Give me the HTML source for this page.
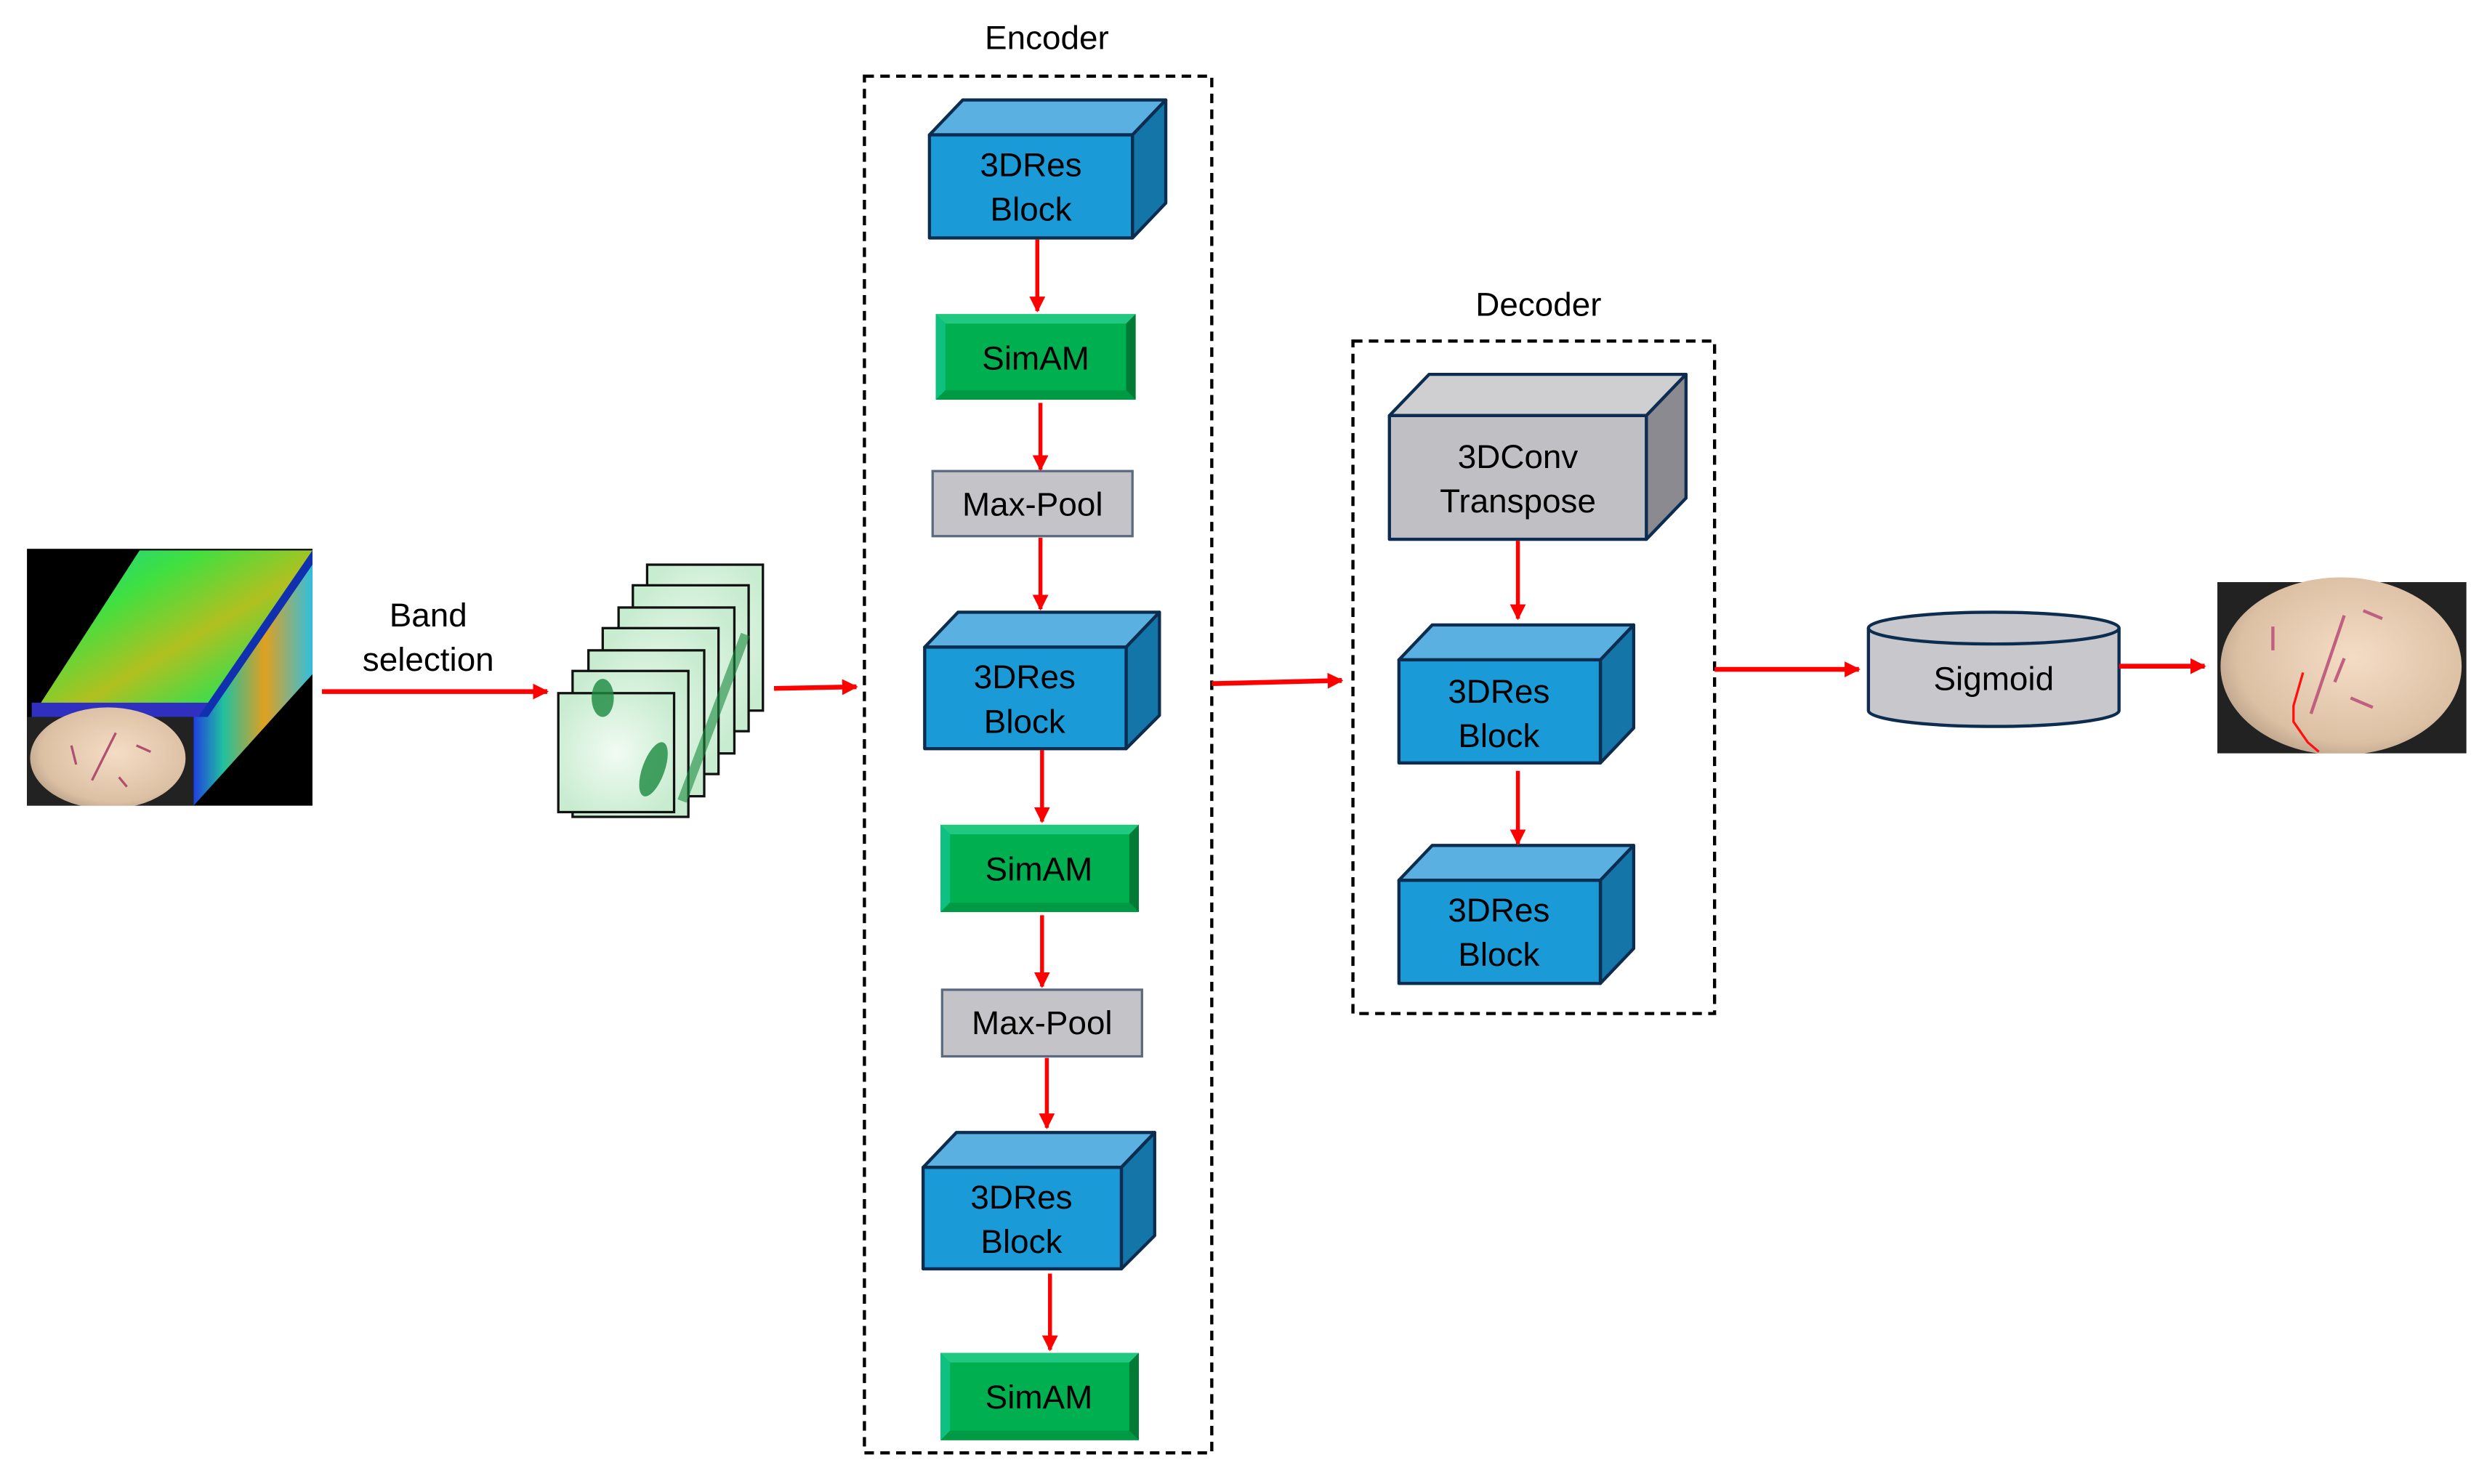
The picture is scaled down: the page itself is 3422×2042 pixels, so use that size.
<!DOCTYPE html>
<html><head><meta charset="utf-8"><style>html,body{margin:0;padding:0;background:#fff}svg{display:block}</style></head>
<body>
<svg width="3422" height="2042" viewBox="0 0 1568 935.6" xmlns="http://www.w3.org/2000/svg" font-family="Liberation Sans, sans-serif">
<defs>
<marker id="ah" markerWidth="10" markerHeight="10" refX="9" refY="5" orient="auto" markerUnits="userSpaceOnUse"><path d="M0,0 L10,5 L0,10 Z" fill="#ff0000"/></marker>
<linearGradient id="spec" x1="0" y1="0" x2="1" y2="1"><stop offset="0" stop-color="#10d0a0"/><stop offset="0.3" stop-color="#40e040"/><stop offset="0.55" stop-color="#b0c020"/><stop offset="0.8" stop-color="#30e050"/><stop offset="1" stop-color="#20a0e0"/></linearGradient>
<linearGradient id="spec2" x1="0" y1="0" x2="1" y2="0"><stop offset="0" stop-color="#2040e0"/><stop offset="0.25" stop-color="#20c0a0"/><stop offset="0.6" stop-color="#e0a020"/><stop offset="1" stop-color="#30c0e0"/></linearGradient>
<radialGradient id="egg" cx="0.55" cy="0.45" r="0.6"><stop offset="0" stop-color="#f4dcc4"/><stop offset="0.8" stop-color="#dcc0a4"/><stop offset="1" stop-color="#b8a088"/></radialGradient>
<radialGradient id="gm" cx="0.5" cy="0.5" r="0.6"><stop offset="0" stop-color="#f2fbf3"/><stop offset="1" stop-color="#c8ecd0"/></radialGradient>
</defs>

<!-- input cube -->
<rect x="17" y="346" width="180" height="162" fill="#000"/>
<polygon points="20,452 88,347 197,347 127,452" fill="url(#spec)"/>
<polygon points="20,443 133,443 127,452 20,452" fill="#3030c0"/>
<polygon points="127,452 197,347 197,425 122,508 122,452" fill="url(#spec2)"/>
<polygon points="125,452 197,347 197,356 131,452" fill="#1030b0"/>
<rect x="17" y="452" width="105" height="56" fill="#222"/>
<ellipse cx="68" cy="478" rx="49" ry="32" fill="url(#egg)"/>
<rect x="0" y="508" width="200" height="30" fill="#fff"/>
<path d="M58,492 L73,462 M86,470 L95,474 M45,470 L48,482 M75,490 L80,496" stroke="#b05070" stroke-width="1.5"/>

<line x1="203" y1="436" x2="345" y2="436" stroke="#ff0000" stroke-width="3" marker-end="url(#ah)"/>
<text x="270" y="395" font-size="21" text-anchor="middle">Band</text>
<text x="270" y="423" font-size="21" text-anchor="middle">selection</text>

<!-- stack -->
<g stroke="#111" stroke-width="1.5">
<rect x="408" y="356" width="73" height="92" fill="url(#gm)"/>
<rect x="399" y="369" width="73" height="92" fill="url(#gm)"/>
<rect x="390" y="383" width="73" height="92" fill="url(#gm)"/>
<rect x="380" y="396" width="73" height="92" fill="url(#gm)"/>
<rect x="371" y="410" width="73" height="92" fill="url(#gm)"/>
<rect x="361" y="423" width="73" height="92" fill="url(#gm)"/>
<rect x="352" y="437" width="73" height="75" fill="url(#gm)"/>
</g>
<ellipse cx="380" cy="440" rx="7" ry="12" fill="#1a8a40" opacity="0.8"/>
<ellipse cx="412" cy="485" rx="7" ry="18" fill="#1a8a40" opacity="0.8" transform="rotate(20 412 485)"/>
<path d="M430,505 L470,400" stroke="#1a8a40" stroke-width="6" opacity="0.6"/>

<line x1="488" y1="434" x2="540" y2="433" stroke="#ff0000" stroke-width="3" marker-end="url(#ah)"/>

<!-- encoder -->
<text x="660" y="31" font-size="21" text-anchor="middle">Encoder</text>
<rect x="545" y="48" width="219" height="868" fill="none" stroke="#000" stroke-width="2" stroke-dasharray="6,4"/>

<g stroke="#0d2d50" stroke-width="2" stroke-linejoin="round">
<polygon points="586,85 607,63 735,63 714,85" fill="#5ab0e0"/>
<polygon points="714,85 735,63 735,128 714,150" fill="#1475a8"/>
<rect x="586" y="85" width="128" height="65" fill="#1a9ad6"/>
<polygon points="583,408 604,386 731,386 710,408" fill="#5ab0e0"/>
<polygon points="710,408 731,386 731,451 710,472" fill="#1475a8"/>
<rect x="583" y="408" width="127" height="64" fill="#1a9ad6"/>
<polygon points="582,736 603,714 728,714 707,736" fill="#5ab0e0"/>
<polygon points="707,736 728,714 728,779 707,800" fill="#1475a8"/>
<rect x="582" y="736" width="125" height="64" fill="#1a9ad6"/>
</g>
<g font-size="21" text-anchor="middle">
<text x="650" y="111">3DRes</text><text x="650" y="139">Block</text>
<text x="646" y="434">3DRes</text><text x="646" y="462">Block</text>
<text x="644" y="762">3DRes</text><text x="644" y="790">Block</text>
</g>

<!-- SimAM -->
<g>
<rect x="590" y="198" width="126" height="54" fill="#00b050"/>
<polygon points="590,198 716,198 710,204 596,204" fill="#20c880"/>
<polygon points="590,198 596,204 596,246 590,252" fill="#10c080"/>
<polygon points="716,198 716,252 710,246 710,204" fill="#007a35"/>
<polygon points="590,252 596,246 710,246 716,252" fill="#009a44"/>
<rect x="593" y="520" width="125" height="55" fill="#00b050"/>
<polygon points="593,520 718,520 712,526 599,526" fill="#20c880"/>
<polygon points="593,520 599,526 599,569 593,575" fill="#10c080"/>
<polygon points="718,520 718,575 712,569 712,526" fill="#007a35"/>
<polygon points="593,575 599,569 712,569 718,575" fill="#009a44"/>
<rect x="593" y="853" width="125" height="55" fill="#00b050"/>
<polygon points="593,853 718,853 712,859 599,859" fill="#20c880"/>
<polygon points="593,853 599,859 599,902 593,908" fill="#10c080"/>
<polygon points="718,853 718,908 712,902 712,859" fill="#007a35"/>
<polygon points="593,908 599,902 712,902 718,908" fill="#009a44"/>
</g>
<g font-size="21" text-anchor="middle">
<text x="653" y="233">SimAM</text>
<text x="655" y="555">SimAM</text>
<text x="655" y="888">SimAM</text>
</g>

<!-- maxpool -->
<rect x="588" y="297" width="126" height="41" fill="#c4c4c8" stroke="#5a6a80" stroke-width="1.5"/>
<rect x="594" y="624" width="126" height="42" fill="#c4c4c8" stroke="#5a6a80" stroke-width="1.5"/>
<g font-size="21" text-anchor="middle">
<text x="651" y="325">Max-Pool</text>
<text x="657" y="652">Max-Pool</text>
</g>

<g stroke="#ff0000" stroke-width="2.5" marker-end="url(#ah)">
<line x1="654" y1="151" x2="654" y2="196"/>
<line x1="656" y1="254" x2="656" y2="296"/>
<line x1="656" y1="339" x2="656" y2="384"/>
<line x1="657" y1="473" x2="657" y2="518"/>
<line x1="657" y1="577" x2="657" y2="622"/>
<line x1="660" y1="667" x2="660" y2="711"/>
<line x1="662" y1="803" x2="662" y2="851"/>
</g>

<line x1="764" y1="431" x2="846" y2="429" stroke="#ff0000" stroke-width="3" marker-end="url(#ah)"/>

<!-- decoder -->
<text x="970" y="199" font-size="21" text-anchor="middle">Decoder</text>
<rect x="853" y="215" width="228" height="424" fill="none" stroke="#000" stroke-width="2" stroke-dasharray="6,4"/>
<g stroke="#0d2d50" stroke-width="2" stroke-linejoin="round">
<polygon points="876,262 901,236 1063,236 1038,262" fill="#cfcfd2"/>
<polygon points="1038,262 1063,236 1063,314 1038,340" fill="#8a8a90"/>
<rect x="876" y="262" width="162" height="78" fill="#c0c0c4"/>
<polygon points="882,416 903,394 1030,394 1009,416" fill="#5ab0e0"/>
<polygon points="1009,416 1030,394 1030,459 1009,481" fill="#1475a8"/>
<rect x="882" y="416" width="127" height="65" fill="#1a9ad6"/>
<polygon points="882,555 903,533 1030,533 1009,555" fill="#5ab0e0"/>
<polygon points="1009,555 1030,533 1030,598 1009,620" fill="#1475a8"/>
<rect x="882" y="555" width="127" height="65" fill="#1a9ad6"/>
</g>
<g font-size="21" text-anchor="middle">
<text x="957" y="295">3DConv</text><text x="957" y="323">Transpose</text>
<text x="945" y="443">3DRes</text><text x="945" y="471">Block</text>
<text x="945" y="581">3DRes</text><text x="945" y="609">Block</text>
</g>
<g stroke="#ff0000" stroke-width="2.5" marker-end="url(#ah)">
<line x1="957" y1="341" x2="957" y2="390"/>
<line x1="957" y1="486" x2="957" y2="532"/>
</g>

<line x1="1081" y1="422" x2="1172" y2="422" stroke="#ff0000" stroke-width="3" marker-end="url(#ah)"/>

<!-- sigmoid -->
<path d="M1178,396 L1178,448 A79,10 0 0 0 1336,448 L1336,396" fill="#c8c8cc" stroke="#0d2d50" stroke-width="2"/>
<ellipse cx="1257" cy="396" rx="79" ry="10" fill="#c8c8cc" stroke="#0d2d50" stroke-width="2"/>
<text x="1257" y="435" font-size="21" text-anchor="middle">Sigmoid</text>
<line x1="1336" y1="420" x2="1390" y2="420" stroke="#ff0000" stroke-width="3" marker-end="url(#ah)"/>

<!-- output -->
<rect x="1398" y="367" width="157" height="108" fill="#222"/>
<ellipse cx="1476" cy="420" rx="76" ry="56" fill="url(#egg)"/>
<rect x="1398" y="475" width="160" height="10" fill="#fff"/>
<path d="M1457,450 L1478,388" stroke="#c06080" stroke-width="2"/>
<path d="M1490,385 L1502,390 M1433,395 L1433,410 M1478,415 L1472,430 M1482,440 L1496,446" stroke="#c06080" stroke-width="2"/>
<path d="M1452,424 L1446,445 L1446,455 L1455,468 L1462,474" stroke="#ff1010" stroke-width="1.5" fill="none"/>
</svg>
</body></html>
